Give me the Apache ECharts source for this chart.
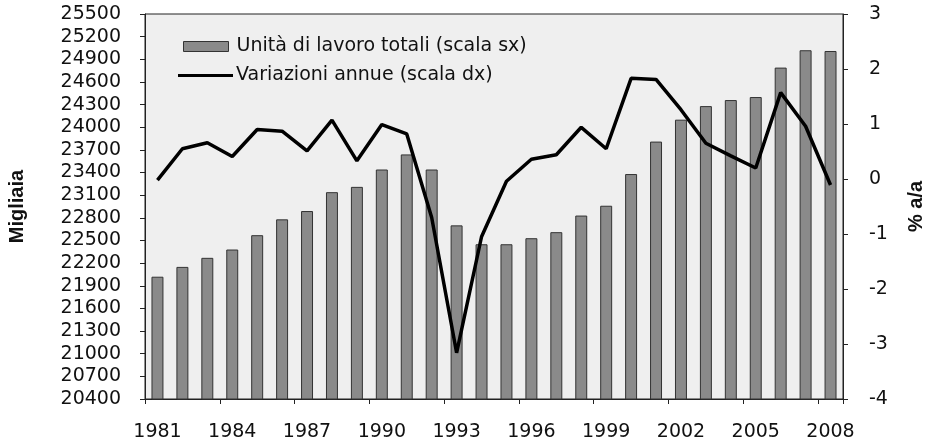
<!DOCTYPE html>
<html>
<head>
<meta charset="utf-8">
<script src="https://cdn.jsdelivr.net/npm/echarts@6/dist/echarts.min.js"></script>
<style>
  html, body { margin: 0; padding: 0; background: #fff; }
  #chart { width: 929px; height: 447px; }
</style>
</head>
<body>
<div id="chart"></div>
<script>
// anni
const years = ['1981', '1982', '1983', '1984', '1985', '1986', '1987', '1988', '1989', '1990',
  '1991', '1992', '1993', '1994', '1995', '1996', '1997', '1998', '1999', '2000',
  '2001', '2002', '2003', '2004', '2005', '2006', '2007', '2008']

// unità di lavoro totali (migliaia, scala sx)
const unitaLavoro = [22020, 22150, 22270, 22380, 22570, 22780, 22890, 23140, 23210, 23440,
  23640, 23440, 22700, 22450, 22450, 22530, 22610, 22830, 22960, 23380,
  23810, 24100, 24280, 24360, 24400, 24790, 25020, 25010]

// variazioni annue (%, scala dx)
const variazioni = [-0.02, 0.55, 0.66, 0.41, 0.90, 0.87, 0.51, 1.07, 0.33, 0.99,
  0.82, -0.70, -3.16, -1.05, -0.04, 0.36, 0.44, 0.94, 0.55, 1.83,
  1.81, 1.26, 0.65, 0.42, 0.20, 1.57, 0.96, -0.11]

const nomeBarre = 'Unità di lavoro totali (scala sx)'
const nomeLinea = 'Variazioni annue (scala dx)'

const labelFont = {
  color: '#111',
  fontFamily: 'DejaVu Sans',
  fontSize: 19
}
const nameFont = {
  color: '#111',
  fontFamily: 'Liberation Sans',
  fontWeight: 'bold',
  fontSize: 20
}
const legendFont = {
  color: '#111',
  fontFamily: 'DejaVu Sans',
  fontSize: 19
}

const myChart = echarts.init(document.getElementById('chart'))

const option = {
  animation: false,
  backgroundColor: '#fff',
  grid: {
    left: 145,
    right: 86,
    top: 14,
    bottom: 48,
    // bordi esterni larghi: la griglia resta dove è
    outerBounds: { left: -60, right: -60, top: -60, bottom: -60 },
    show: true,
    backgroundColor: '#efefef',
    borderColor: '#222',
    borderWidth: 1
  },
  // due legende per avere icone di misura diversa
  legend: [
    {
      left: 178,
      top: 32,
      icon: 'rect',
      itemWidth: 45,
      itemHeight: 10,
      itemStyle: { color: '#8a8a8a', borderColor: '#333', borderWidth: 1 },
      textStyle: Object.assign({ padding: [0, 0, 0, 3] }, legendFont),
      data: [nomeBarre]
    },
    {
      left: 173,
      top: 61,
      icon: 'rect',
      itemWidth: 55,
      itemHeight: 3,
      itemStyle: { color: '#000', borderWidth: 0 },
      textStyle: Object.assign({ padding: [0, 0, 0, -2] }, legendFont),
      data: [nomeLinea]
    }
  ],
  xAxis: {
    type: 'category',
    data: years,
    boundaryGap: true,
    axisLine: { onZero: false, lineStyle: { color: '#222' } },
    axisTick: { show: true, length: 5, lineStyle: { color: '#222' } },
    axisLabel: Object.assign({ interval: 2, margin: 24 }, labelFont)
  },
  yAxis: [
    {
      type: 'value',
      min: 20400,
      max: 25500,
      interval: 300,
      name: 'Migliaia',
      nameLocation: 'middle',
      nameRotate: 90,
      nameGap: 118,
      nameTextStyle: nameFont,
      splitLine: { show: false },
      axisLine: { show: true, onZero: false, lineStyle: { color: '#222' } },
      axisTick: { show: true, length: 5, lineStyle: { color: '#222' } },
      axisLabel: Object.assign({ margin: 24, formatter: v => String(v) }, labelFont)
    },
    // asse destro: linea, tacche e titolo
    {
      type: 'value',
      min: -4,
      max: 3,
      interval: 1,
      position: 'right',
      name: '% a/a',
      nameLocation: 'middle',
      nameRotate: 90,
      nameGap: 63,
      nameMoveOverlap: false,
      nameTextStyle: nameFont,
      splitLine: { show: false },
      axisLine: { show: true, onZero: false, lineStyle: { color: '#222' } },
      axisTick: { show: true, length: 5, lineStyle: { color: '#222' } },
      axisLabel: { show: false }
    },
    // asse destro: solo etichette, spostato a destra
    {
      type: 'value',
      min: -4,
      max: 3,
      interval: 1,
      position: 'right',
      offset: 24,
      splitLine: { show: false },
      axisLine: { show: false, onZero: false },
      axisTick: { show: false },
      axisLabel: Object.assign({ margin: 2 }, labelFont)
    }
  ],
  series: [
    {
      name: nomeBarre,
      type: 'bar',
      yAxisIndex: 0,
      barWidth: '48%',
      itemStyle: {
        color: '#8a8a8a',
        borderColor: '#333',
        borderWidth: 1
      },
      data: unitaLavoro
    },
    {
      name: nomeLinea,
      type: 'line',
      yAxisIndex: 1,
      symbol: 'none',
      lineStyle: { color: '#000', width: 3.5 },
      itemStyle: { color: '#000' },
      data: variazioni
    }
  ]
}

myChart.setOption(option)
</script>
</body>
</html>
